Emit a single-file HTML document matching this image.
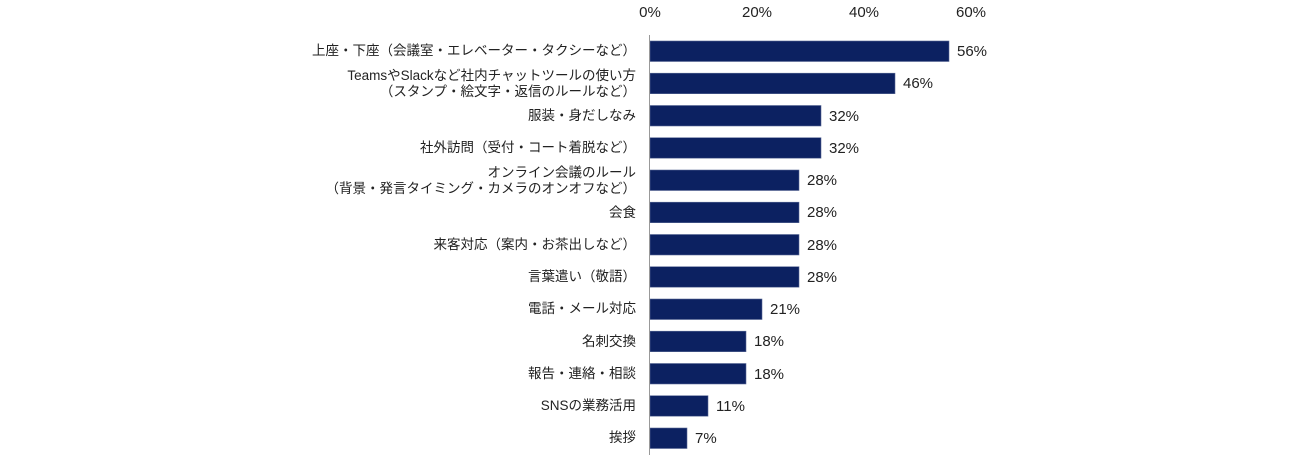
<!DOCTYPE html>
<html><head><meta charset="utf-8"><style>
body{margin:0;background:#fff;}
svg{display:block;font-family:"Liberation Sans","Noto Sans CJK JP",sans-serif;}
</style></head><body>
<svg width="1300" height="468" xmlns="http://www.w3.org/2000/svg">
<g font-size="15" fill="#222" text-anchor="middle">
<text x="650" y="17">0%</text><text x="757" y="17">20%</text><text x="864" y="17">40%</text><text x="971" y="17">60%</text>
</g>
<g fill="#0c2161" stroke="#5a6a96" stroke-width="0.6">
<rect x="650" y="41" width="299" height="20.5"/>
<rect x="650" y="73.2" width="245" height="20.5"/>
<rect x="650" y="105.5" width="171" height="20.5"/>
<rect x="650" y="137.7" width="171" height="20.5"/>
<rect x="650" y="170" width="149" height="20.5"/>
<rect x="650" y="202.2" width="149" height="20.5"/>
<rect x="650" y="234.5" width="149" height="20.5"/>
<rect x="650" y="266.7" width="149" height="20.5"/>
<rect x="650" y="299" width="112" height="20.5"/>
<rect x="650" y="331.2" width="96" height="20.5"/>
<rect x="650" y="363.5" width="96" height="20.5"/>
<rect x="650" y="395.7" width="58" height="20.5"/>
<rect x="650" y="428" width="37" height="20.5"/>
</g>
<line x1="649.5" y1="35" x2="649.5" y2="455" stroke="#999" stroke-width="1"/>
<g font-size="15" fill="#222">
<text x="957" y="56">56%</text>
<text x="903" y="88">46%</text>
<text x="829" y="121">32%</text>
<text x="829" y="153">32%</text>
<text x="807" y="185">28%</text>
<text x="807" y="217">28%</text>
<text x="807" y="250">28%</text>
<text x="807" y="282">28%</text>
<text x="770" y="314">21%</text>
<text x="754" y="346">18%</text>
<text x="754" y="379">18%</text>
<text x="716" y="411">11%</text>
<text x="695" y="443">7%</text>
</g>
<g font-size="13.5" fill="#222" text-anchor="end">
<text x="636" y="55">上座・下座（会議室・エレベーター・タクシーなど）</text>
<text x="636" y="80">TeamsやSlackなど社内チャットツールの使い方</text>
<text x="636" y="96">（スタンプ・絵文字・返信のルールなど）</text>
<text x="636" y="120">服装・身だしなみ</text>
<text x="636" y="152">社外訪問（受付・コート着脱など）</text>
<text x="636" y="177">オンライン会議のルール</text>
<text x="636" y="193">（背景・発言タイミング・カメラのオンオフなど）</text>
<text x="636" y="217">会食</text>
<text x="636" y="249">来客対応（案内・お茶出しなど）</text>
<text x="636" y="281">言葉遣い（敬語）</text>
<text x="636" y="313">電話・メール対応</text>
<text x="636" y="346">名刺交換</text>
<text x="636" y="378">報告・連絡・相談</text>
<text x="636" y="410">SNSの業務活用</text>
<text x="636" y="442">挨拶</text>
</g>
</svg>
</body></html>
